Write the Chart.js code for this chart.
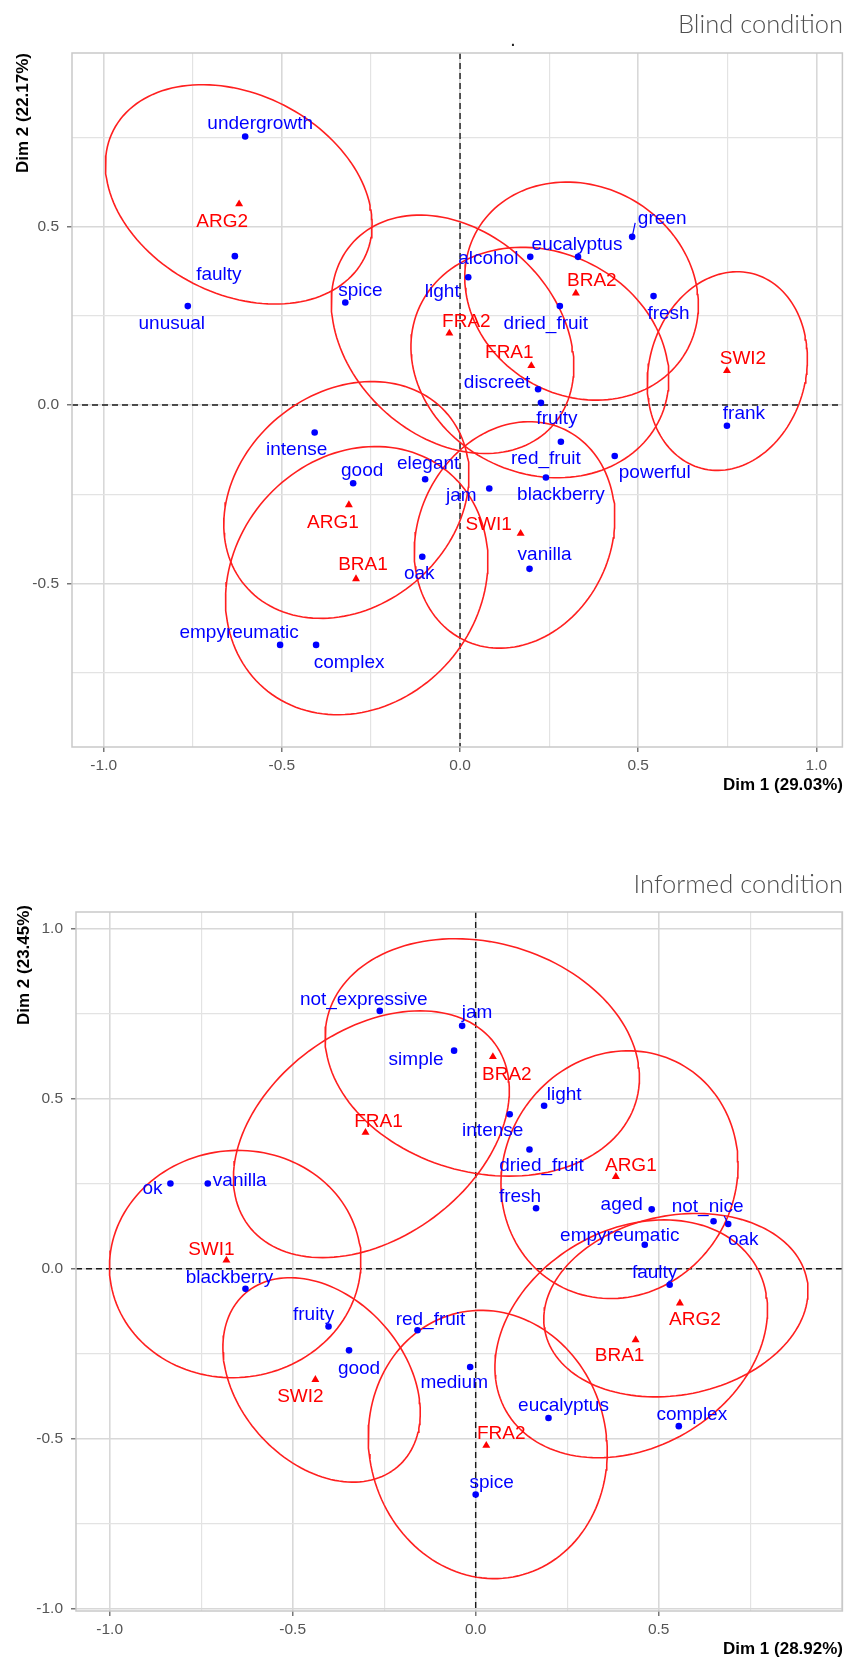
<!DOCTYPE html>
<html><head><meta charset="utf-8">
<script src="https://cdn.jsdelivr.net/npm/chart.js@4.4.1/dist/chart.umd.min.js"></script>
<style>
html,body{margin:0;padding:0;background:#fff;width:847px;height:1657px;overflow:hidden}
canvas{position:absolute;left:0}
#blind{top:0}
#informed{top:800px}
</style></head><body>
<canvas id="blind" width="847" height="800"></canvas>
<canvas id="informed" width="847" height="857"></canvas>
<script>
// ---------- Blind condition ----------
const blindVarNames = ['undergrowth','faulty','unusual','spice','light','alcohol','eucalyptus','green','fresh','dried_fruit','discreet','fruity','frank','intense','red_fruit','powerful','good','elegant','blackberry','jam','vanilla','oak','empyreumatic','complex'];
const blindVarX = [-0.603,-0.632,-0.764,-0.322,0.023,0.197,0.331,0.483,0.543,0.280,0.219,0.227,0.749,-0.408,0.283,0.434,-0.300,-0.098,0.241,0.082,0.195,-0.106,-0.505,-0.404];
const blindVarY = [0.752,0.417,0.277,0.287,0.358,0.415,0.415,0.471,0.305,0.277,0.044,0.006,-0.058,-0.077,-0.103,-0.143,-0.219,-0.208,-0.203,-0.234,-0.459,-0.425,-0.672,-0.672];
const blindProdNames = ['ARG2','BRA2','FRA2','FRA1','SWI2','ARG1','BRA1','SWI1'];
const blindProdX = [-0.620,0.325,-0.030,0.200,0.749,-0.312,-0.292,0.170];
const blindProdY = [0.563,0.313,0.201,0.110,0.096,-0.280,-0.487,-0.360];
// confidence ellipses (one per product, same order): centre, semi-axes, rotation (deg)
const blindEllCx = [-0.621,0.341,-0.021,0.224,0.750,-0.319,-0.290,0.153];
const blindEllCy = [0.590,0.319,0.198,0.119,0.095,-0.266,-0.492,-0.364];
const blindEllA = [0.395,0.339,0.380,0.372,0.282,0.372,0.398,0.327];
const blindEllB = [0.280,0.293,0.288,0.311,0.220,0.300,0.344,0.270];
const blindEllAngle = [-27,-30.5,-43,-25,75,40,49,64.5];
const blindGridX = [-1,-0.75,-0.5,-0.25,0,0.25,0.5,0.75,1];
const blindTickX = [-1,-0.5,0,0.5,1];
const blindGridY = [-0.75,-0.5,-0.25,0,0.25,0.5,0.75];
const blindTickY = [-0.5,0,0.5];

// ---------- Informed condition ----------
const infVarNames = ['not_expressive','jam','simple','light','intense','dried_fruit','ok','vanilla','fresh','aged','not_nice','oak','empyreumatic','faulty','blackberry','fruity','red_fruit','good','medium','eucalyptus','complex','spice'];
const infVarX = [-0.262,-0.037,-0.059,0.187,0.093,0.147,-0.834,-0.732,0.165,0.481,0.650,0.690,0.462,0.530,-0.629,-0.402,-0.159,-0.346,-0.015,0.199,0.555,0.000];
const infVarY = [0.759,0.715,0.642,0.480,0.455,0.351,0.251,0.251,0.178,0.175,0.140,0.132,0.071,-0.047,-0.059,-0.170,-0.181,-0.240,-0.289,-0.439,-0.463,-0.664];
const infProdNames = ['BRA2','FRA1','ARG1','SWI1','ARG2','BRA1','SWI2','FRA2'];
const infProdX = [0.047,-0.301,0.383,-0.681,0.558,0.437,-0.438,0.029];
const infProdY = [0.624,0.401,0.271,0.025,-0.101,-0.209,-0.326,-0.520];
const infEllCx = [0.018,-0.285,0.393,-0.657,0.547,0.425,-0.421,0.033];
const infEllCy = [0.622,0.396,0.277,0.014,-0.107,-0.206,-0.327,-0.517];
const infEllA = [0.440,0.431,0.368,0.345,0.366,0.404,0.330,0.396];
const infEllB = [0.336,0.297,0.320,0.333,0.263,0.313,0.233,0.325];
const infEllAngle = [-19.7,42,74,20,13.8,37.8,-54.5,-82];
const infGridX = [-1,-0.75,-0.5,-0.25,0,0.25,0.5,0.75,1];
const infTickX = [-1,-0.5,0,0.5];
const infGridY = [-1,-0.75,-0.5,-0.25,0,0.25,0.5,0.75,1];
const infTickY = [-1,-0.5,0,0.5,1];

// ---------- layout (label offsets in px, from mark to label centre) ----------
const layout = {
  blind: {
    varDx: [15,-16,-16,15,-26,-42,-1,30,15,-14,-41,16,17,-18,-15,40,9,3,15,-28,15,-3,-41,33],
    varDy: [-13,19,18,-12,15,2,-12,-18,18,18,-7,16,-12,17,17,17,-12,-15,17,7,-14,17,-12,18],
    prodDx: [-17,16,17,-22,16,-16,7,-32],
    prodDy: [18,-12,-11,-13,-12,18,-14,-9],
    connectors: {green: [3,-14]},
    range: {xmin:-1.089, xmax:1.073, ymin:-0.958, ymax:0.986},
    area: {top:53, right:3, yWidth:72, xHeight:53},
    title: 'Blind condition', titleY: 25, dot: true,
    xTitle: 'Dim 1 (29.03%)', xTitleY: 785,
    yTitle: 'Dim 2 (22.17%)', yTitleX: 23, yTitleTop: 53
  },
  informed: {
    varDx: [-16,15,-38,20,-17,12,-18,32,-16,-30,-6,15,-25,-15,-16,-15,13,10,-16,15,13,16],
    varDy: [-11,-13,9,-11,17,16,5,-3,-12,-5,-14,16,-9,-12,-11,-12,-11,18,16,-12,-11,-12],
    prodDx: [14,13,15,-15,15,-16,-15,15],
    prodDy: [18,-11,-11,-11,17,16,17,-12],
    connectors: {oak: [-4,-8]},
    range: {xmin:-1.092, xmax:1.002, ymin:-1.007, ymax:1.050},
    area: {top:112, right:2, yWidth:76, xHeight:46},
    title: 'Informed condition', titleY: 85, dot: false,
    xTitle: 'Dim 1 (28.92%)', xTitleY: 849,
    yTitle: 'Dim 2 (23.45%)', yTitleX: 24, yTitleTop: 105
  }
};

const BLUE = '#0000ff', RED = '#ff0000', ELL = '#ff1f1f';
const FONT = '"Liberation Sans", Arial, Helvetica, sans-serif';

function ellipseOutline(cx, cy, a, b, deg) {
  const t = deg * Math.PI / 180, pts = [];
  for (let i = 0; i <= 144; i++) {
    const u = i / 144 * 2 * Math.PI;
    const ex = a * Math.cos(u), ey = b * Math.sin(u);
    pts.push({x: cx + ex * Math.cos(t) - ey * Math.sin(t), y: cy + ex * Math.sin(t) + ey * Math.cos(t)});
  }
  return pts;
}

function decorPlugin(L) {
  return {
    id: 'decor',
    beforeDraw(chart) {
      const c = chart.ctx; c.save(); c.fillStyle = '#fff'; c.fillRect(0, 0, chart.width, chart.height); c.restore();
    },
    beforeDatasetsDraw(chart) {
      const {ctx, chartArea: A, scales: {x, y}} = chart;
      ctx.save();
      ctx.strokeStyle = '#1a1a1a'; ctx.lineWidth = 1.4; ctx.setLineDash([6, 4]);
      const x0 = x.getPixelForValue(0), y0 = y.getPixelForValue(0);
      ctx.beginPath(); ctx.moveTo(x0, A.top); ctx.lineTo(x0, A.bottom); ctx.stroke();
      ctx.beginPath(); ctx.moveTo(A.left, y0); ctx.lineTo(A.right, y0); ctx.stroke();
      ctx.restore();
    },
    afterDraw(chart) {
      const {ctx, chartArea: A} = chart;
      ctx.save();
      ctx.strokeStyle = '#c9c9c9'; ctx.lineWidth = 1.5;
      ctx.strokeRect(A.left, A.top, A.right - A.left, A.bottom - A.top);
      // title
      ctx.fillStyle = '#4f4f4f'; ctx.font = '300 25.5px Lato, "Open Sans", Roboto, sans-serif';
      ctx.textAlign = 'right'; ctx.textBaseline = 'middle';
      ctx.fillText(L.title, 843, L.titleY);
      if (L.dot) { ctx.fillStyle = '#222'; ctx.font = 'bold 14px ' + FONT; ctx.textAlign = 'center'; ctx.textBaseline = 'alphabetic'; ctx.fillText('.', 513, 46); }
      // axis titles
      ctx.fillStyle = '#000'; ctx.font = 'bold 17px ' + FONT;
      ctx.textAlign = 'right'; ctx.textBaseline = 'middle';
      ctx.fillText(L.xTitle, 843, L.xTitleY);
      ctx.translate(L.yTitleX, L.yTitleTop); ctx.rotate(-Math.PI / 2);
      ctx.fillText(L.yTitle, 0, 0);
      ctx.restore();
    }
  };
}

function labelPlugin(groups, L) {
  return {
    id: 'markLabels',
    afterDatasetsDraw(chart) {
      const {ctx, scales: {x, y}} = chart;
      ctx.save();
      ctx.font = '19px ' + FONT; ctx.textAlign = 'center'; ctx.textBaseline = 'middle';
      groups.forEach(g => {
        ctx.fillStyle = g.color; ctx.strokeStyle = g.color; ctx.lineWidth = 1.2;
        g.names.forEach((n, i) => {
          const px = x.getPixelForValue(g.xs[i]), py = y.getPixelForValue(g.ys[i]);
          const con = L.connectors[n];
          if (g.isVar && con) { ctx.beginPath(); ctx.moveTo(px, py); ctx.lineTo(px + con[0], py + con[1]); ctx.stroke(); }
          ctx.fillText(n, px + g.dx[i], py + g.dy[i]);
        });
      });
      ctx.restore();
    }
  };
}

function axisOpts(grid, ticks, min, max, isX, L) {
  const major = v => ticks.some(t => Math.abs(t - v) < 1e-9);
  return {
    type: 'linear', min, max,
    afterBuildTicks: s => { s.ticks = grid.filter(v => v >= min && v <= max).map(v => ({value: v})); },
    afterFit: s => { if (isX) s.height = L.area.xHeight; else s.width = L.area.yWidth; },
    ticks: {
      autoSkip: false, maxRotation: 0, minRotation: 0,
      callback: v => major(v) ? Number(v).toFixed(1) : '',
      font: {family: FONT, size: 15.5}, color: '#555', padding: isX ? 4 : 8
    },
    grid: {
      drawTicks: true, tickLength: 5,
      color: c => major(c.tick.value) ? '#d8d8d8' : '#e3e3e3',
      lineWidth: c => major(c.tick.value) ? 1.6 : 1.2,
      tickColor: c => major(c.tick.value) ? '#555' : 'rgba(0,0,0,0)',
      tickWidth: 1.2
    },
    border: {display: false}
  };
}

function build(id, L, d) {
  const ellSets = d.ecx.map((cx, i) => ({
    data: ellipseOutline(cx, d.ecy[i], d.ea[i], d.eb[i], d.eang[i]),
    showLine: true, borderColor: ELL, borderWidth: 1.6, pointRadius: 0, fill: false, tension: 0, order: 3
  }));
  const varSet = {data: d.vx.map((v, i) => ({x: v, y: d.vy[i]})), pointStyle: 'circle', pointRadius: 3.3,
    backgroundColor: BLUE, borderWidth: 0, showLine: false, order: 1};
  const prodSet = {data: d.px.map((v, i) => ({x: v, y: d.py[i]})), pointStyle: 'triangle', pointRadius: 4.6,
    backgroundColor: RED, borderColor: RED, borderWidth: 0, showLine: false, order: 1};
  const groups = [
    {names: d.vn, xs: d.vx, ys: d.vy, dx: L.varDx, dy: L.varDy, color: BLUE, isVar: true},
    {names: d.pn, xs: d.px, ys: d.py, dx: L.prodDx, dy: L.prodDy, color: RED, isVar: false}
  ];
  return new Chart(document.getElementById(id), {
    type: 'scatter',
    data: {datasets: [...ellSets, varSet, prodSet]},
    options: {
      responsive: false, animation: false, events: [], devicePixelRatio: 1,
      layout: {padding: {top: L.area.top, right: L.area.right, left: 0, bottom: 0}},
      plugins: {legend: {display: false}, tooltip: {enabled: false}, title: {display: false}},
      scales: {
        x: axisOpts(d.gx, d.tx, L.range.xmin, L.range.xmax, true, L),
        y: axisOpts(d.gy, d.ty, L.range.ymin, L.range.ymax, false, L)
      }
    },
    plugins: [decorPlugin(L), labelPlugin(groups, L)]
  });
}

build('blind', layout.blind, {
  vn: blindVarNames, vx: blindVarX, vy: blindVarY,
  pn: blindProdNames, px: blindProdX, py: blindProdY,
  ecx: blindEllCx, ecy: blindEllCy, ea: blindEllA, eb: blindEllB, eang: blindEllAngle,
  gx: blindGridX, tx: blindTickX, gy: blindGridY, ty: blindTickY
});
build('informed', layout.informed, {
  vn: infVarNames, vx: infVarX, vy: infVarY,
  pn: infProdNames, px: infProdX, py: infProdY,
  ecx: infEllCx, ecy: infEllCy, ea: infEllA, eb: infEllB, eang: infEllAngle,
  gx: infGridX, tx: infTickX, gy: infGridY, ty: infTickY
});
</script>
</body></html>
